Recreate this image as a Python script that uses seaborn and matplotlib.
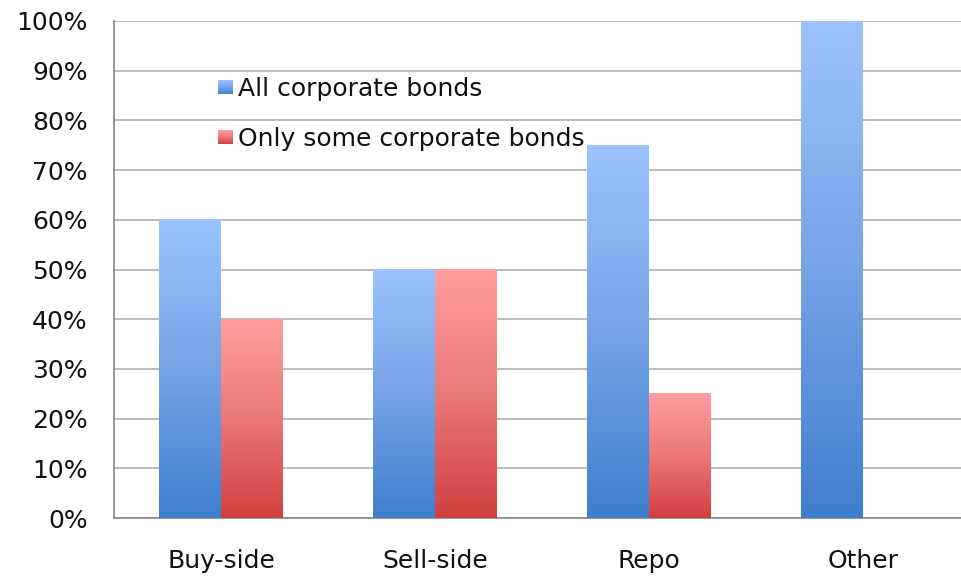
import numpy as np
import pandas as pd
import matplotlib
matplotlib.use("Agg")
import matplotlib.pyplot as plt
import seaborn as sns
from matplotlib.colors import LinearSegmentedColormap
from matplotlib.legend_handler import HandlerBase
from matplotlib.patches import Rectangle, Patch
from matplotlib.ticker import FixedLocator, PercentFormatter

categories = ["Buy-side", "Sell-side", "Repo", "Other"]
series = ["All corporate bonds", "Only some corporate bonds"]
all_bonds = [60, 50, 75, 100]
some_bonds = [40, 50, 25, 0]

df = pd.DataFrame({
    "category": categories * 2,
    "series": [series[0]] * len(categories) + [series[1]] * len(categories),
    "share": all_bonds + some_bonds,
})

blue_cmap = LinearSegmentedColormap.from_list(
    "blue_fade", [(0.0, "#3f7fcf"), (0.5, "#76a3e6"), (1.0, "#9cc3ff")])
red_cmap = LinearSegmentedColormap.from_list(
    "red_fade", [(0.0, "#d04040"), (0.5, "#eb7878"), (1.0, "#ff9e9e")])
cmaps = [blue_cmap, red_cmap]

sns.set_style("white")
plt.rcParams["font.family"] = ["DejaVu Sans"]
FS = 18

fig = plt.figure(figsize=(9.61, 5.79), dpi=100)
ax = fig.add_axes([114 / 961, 61 / 579, 856 / 961, 497 / 579])

sns.barplot(data=df, x="category", y="share", hue="series",
            order=categories, hue_order=series,
            palette=["#76a3e6", "#eb7878"], saturation=1,
            width=0.575, gap=0, dodge=True, legend=False,
            errorbar=None, ax=ax, zorder=3)

# Replace flat fills with a vertical gradient, light at the top
grad = np.linspace(0, 1, 256).reshape(-1, 1)
for container, cmap in zip(ax.containers, cmaps):
    for bar in container:
        h = bar.get_height()
        bar.set_visible(False)
        if h <= 0:
            continue
        x0, w = bar.get_x(), bar.get_width()
        ax.imshow(grad, cmap=cmap, origin="lower", aspect="auto",
                  extent=[x0, x0 + w, 0, h], zorder=3,
                  interpolation="bilinear")

ax.set_xlim(-0.5, len(categories) - 0.5)
ax.set_ylim(0, 100)

# Axes styling
for side in ["top", "right"]:
    ax.spines[side].set_visible(False)
for side in ["left", "bottom"]:
    ax.spines[side].set_color("#868686")
    ax.spines[side].set_linewidth(1.2)

ax.set_yticks(np.arange(0, 101, 10))
ax.yaxis.set_major_formatter(PercentFormatter(decimals=0))
ax.yaxis.grid(True, color="#a8a8a8", linewidth=1.1)
ax.set_axisbelow(True)
ax.tick_params(axis="y", direction="out", length=9, width=1.1,
               color="#868686", pad=10, labelsize=FS, labelcolor="#111111")

# Category boundaries carry the ticks; labels sit at the centres
ax.xaxis.set_major_locator(FixedLocator(np.arange(-0.5, len(categories), 1.0)))
ax.xaxis.set_major_formatter(plt.NullFormatter())
ax.xaxis.set_minor_locator(FixedLocator(np.arange(len(categories))))
ax.set_xticklabels(categories, minor=True)
ax.tick_params(axis="x", which="major", direction="out", length=8,
               width=1.1, color="#c4c4c4")
ax.tick_params(axis="x", which="minor", length=0, pad=22,
               labelsize=FS, labelcolor="#111111")
ax.set_xlabel("")
ax.set_ylabel("")


class GradientSquare(HandlerBase):
    def __init__(self, cmap, steps=14):
        super().__init__()
        self.cmap = cmap
        self.steps = steps

    def create_artists(self, legend, orig_handle, xdescent, ydescent,
                       width, height, fontsize, trans):
        side = min(width, height)
        x0 = -xdescent
        y0 = -ydescent + (height - side) / 2
        arts = []
        for i in range(self.steps):
            arts.append(Rectangle(
                (x0, y0 + side * i / self.steps), side, side / self.steps,
                facecolor=self.cmap((i + 0.5) / self.steps),
                edgecolor="none", transform=trans))
        return arts


handles = [Patch(label=s) for s in series]
ax.legend(handles=handles, labels=series,
          handler_map={h: GradientSquare(c) for h, c in zip(handles, cmaps)},
          loc="upper left", bbox_to_anchor=((218 - 114) / 856, (518 - 77) / 497),
          frameon=False, borderpad=0, borderaxespad=0,
          handlelength=0.58, handleheight=0.58, handletextpad=0.2,
          labelspacing=1.04, fontsize=FS, labelcolor="#111111")

fig.savefig("out.png", dpi=100)
